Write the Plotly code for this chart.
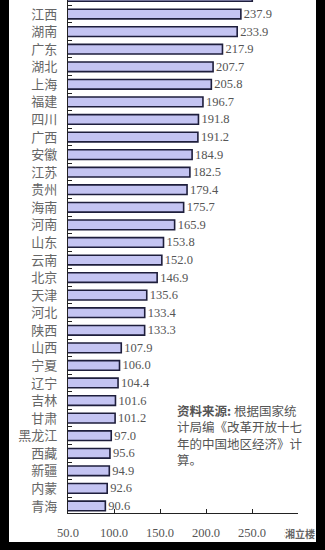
import plotly.graph_objects as go

provinces = ["浙江", "江西", "湖南", "广东", "湖北", "上海", "福建", "四川", "广西", "安徽",
             "江苏", "贵州", "海南", "河南", "山东", "云南", "北京", "天津", "河北", "陕西",
             "山西", "宁夏", "辽宁", "吉林", "甘肃", "黑龙江", "西藏", "新疆", "内蒙", "青海"]
values = [250.3, 237.9, 233.9, 217.9, 207.7, 205.8, 196.7, 191.8, 191.2, 184.9,
          182.5, 179.4, 175.7, 165.9, 153.8, 152.0, 146.9, 135.6, 133.4, 133.3,
          107.9, 106.0, 104.4, 101.6, 101.2, 97.0, 95.6, 94.9, 92.6, 90.6]
x_ticks = [50, 100, 150, 200, 250, 300]
note_lines = ["<b>资料来源:</b> 根据国家统", "计局编《改革开放十七", "年的中国地区经济》计", "算。"]

W, H = 325, 550
L, R, T, B = 68, 27, 0, 37
pw, ph = W - L - R, H - T - B

def px(xp):
    return (xp - L) / pw

def py(yp):
    return 1 - (yp - T) / ph

fig = go.Figure(go.Bar(
    x=values, y=provinces, orientation="h",
    marker=dict(color="#c4c4f2", line=dict(color="#1e1e3c", width=1.6)),
    text=values, texttemplate="%{x:.1f}", textposition="outside",
    textfont=dict(family="Liberation Serif", size=12.5, color="#555555"),
    constraintext="none", cliponaxis=True, width=0.55,
))

shapes = [
    dict(type="rect", xref="paper", yref="paper", x0=px(-5), x1=px(9), y0=py(-5), y1=py(560),
         fillcolor="black", line=dict(width=0), layer="above"),
    dict(type="rect", xref="paper", yref="paper", x0=px(316), x1=px(330), y0=py(-5), y1=py(560),
         fillcolor="black", line=dict(width=0), layer="above"),
    dict(type="rect", xref="paper", yref="paper", x0=px(-5), x1=px(330), y0=py(542), y1=py(560),
         fillcolor="black", line=dict(width=0), layer="above"),
]

annotations = [
    dict(xref="paper", yref="paper", x=px(175), y=py(399), xanchor="left", yanchor="top",
         align="left", showarrow=False, text="<br>".join(note_lines),
         font=dict(family="Noto Sans CJK SC", size=12.5, color="#555555")),
    dict(xref="paper", yref="paper", x=px(284), y=py(533), xanchor="left", yanchor="middle",
         showarrow=False, text="<b>湘立楼</b>", bgcolor="white", borderpad=0,
         font=dict(family="Noto Sans CJK SC", size=10, color="#666666")),
]

fig.update_layout(
    width=W, height=H,
    margin=dict(l=L, r=R, t=T, b=B, pad=0),
    paper_bgcolor="white", plot_bgcolor="white",
    showlegend=False, bargap=0.45,
    shapes=shapes, annotations=annotations,
    xaxis=dict(range=[50, 300], tickvals=x_ticks, tickformat=".1f",
               ticks="inside", ticklen=4, tickcolor="#222222",
               showline=True, linecolor="#222222", linewidth=1.2,
               showgrid=False, zeroline=False, ticklabelstandoff=8,
               tickfont=dict(family="Liberation Serif", size=12.5, color="#555555")),
    yaxis=dict(type="category", categoryorder="array", categoryarray=provinces,
               range=[29.4, 0.2], ticks="inside", ticklen=4, tickson="boundaries",
               tickcolor="#222222", showline=True, linecolor="#222222", linewidth=1.2,
               showgrid=False, zeroline=False, ticklabelstandoff=7,
               tickfont=dict(family="Noto Sans CJK SC", size=13, color="#666666")),
)

fig.write_html("out.html")
